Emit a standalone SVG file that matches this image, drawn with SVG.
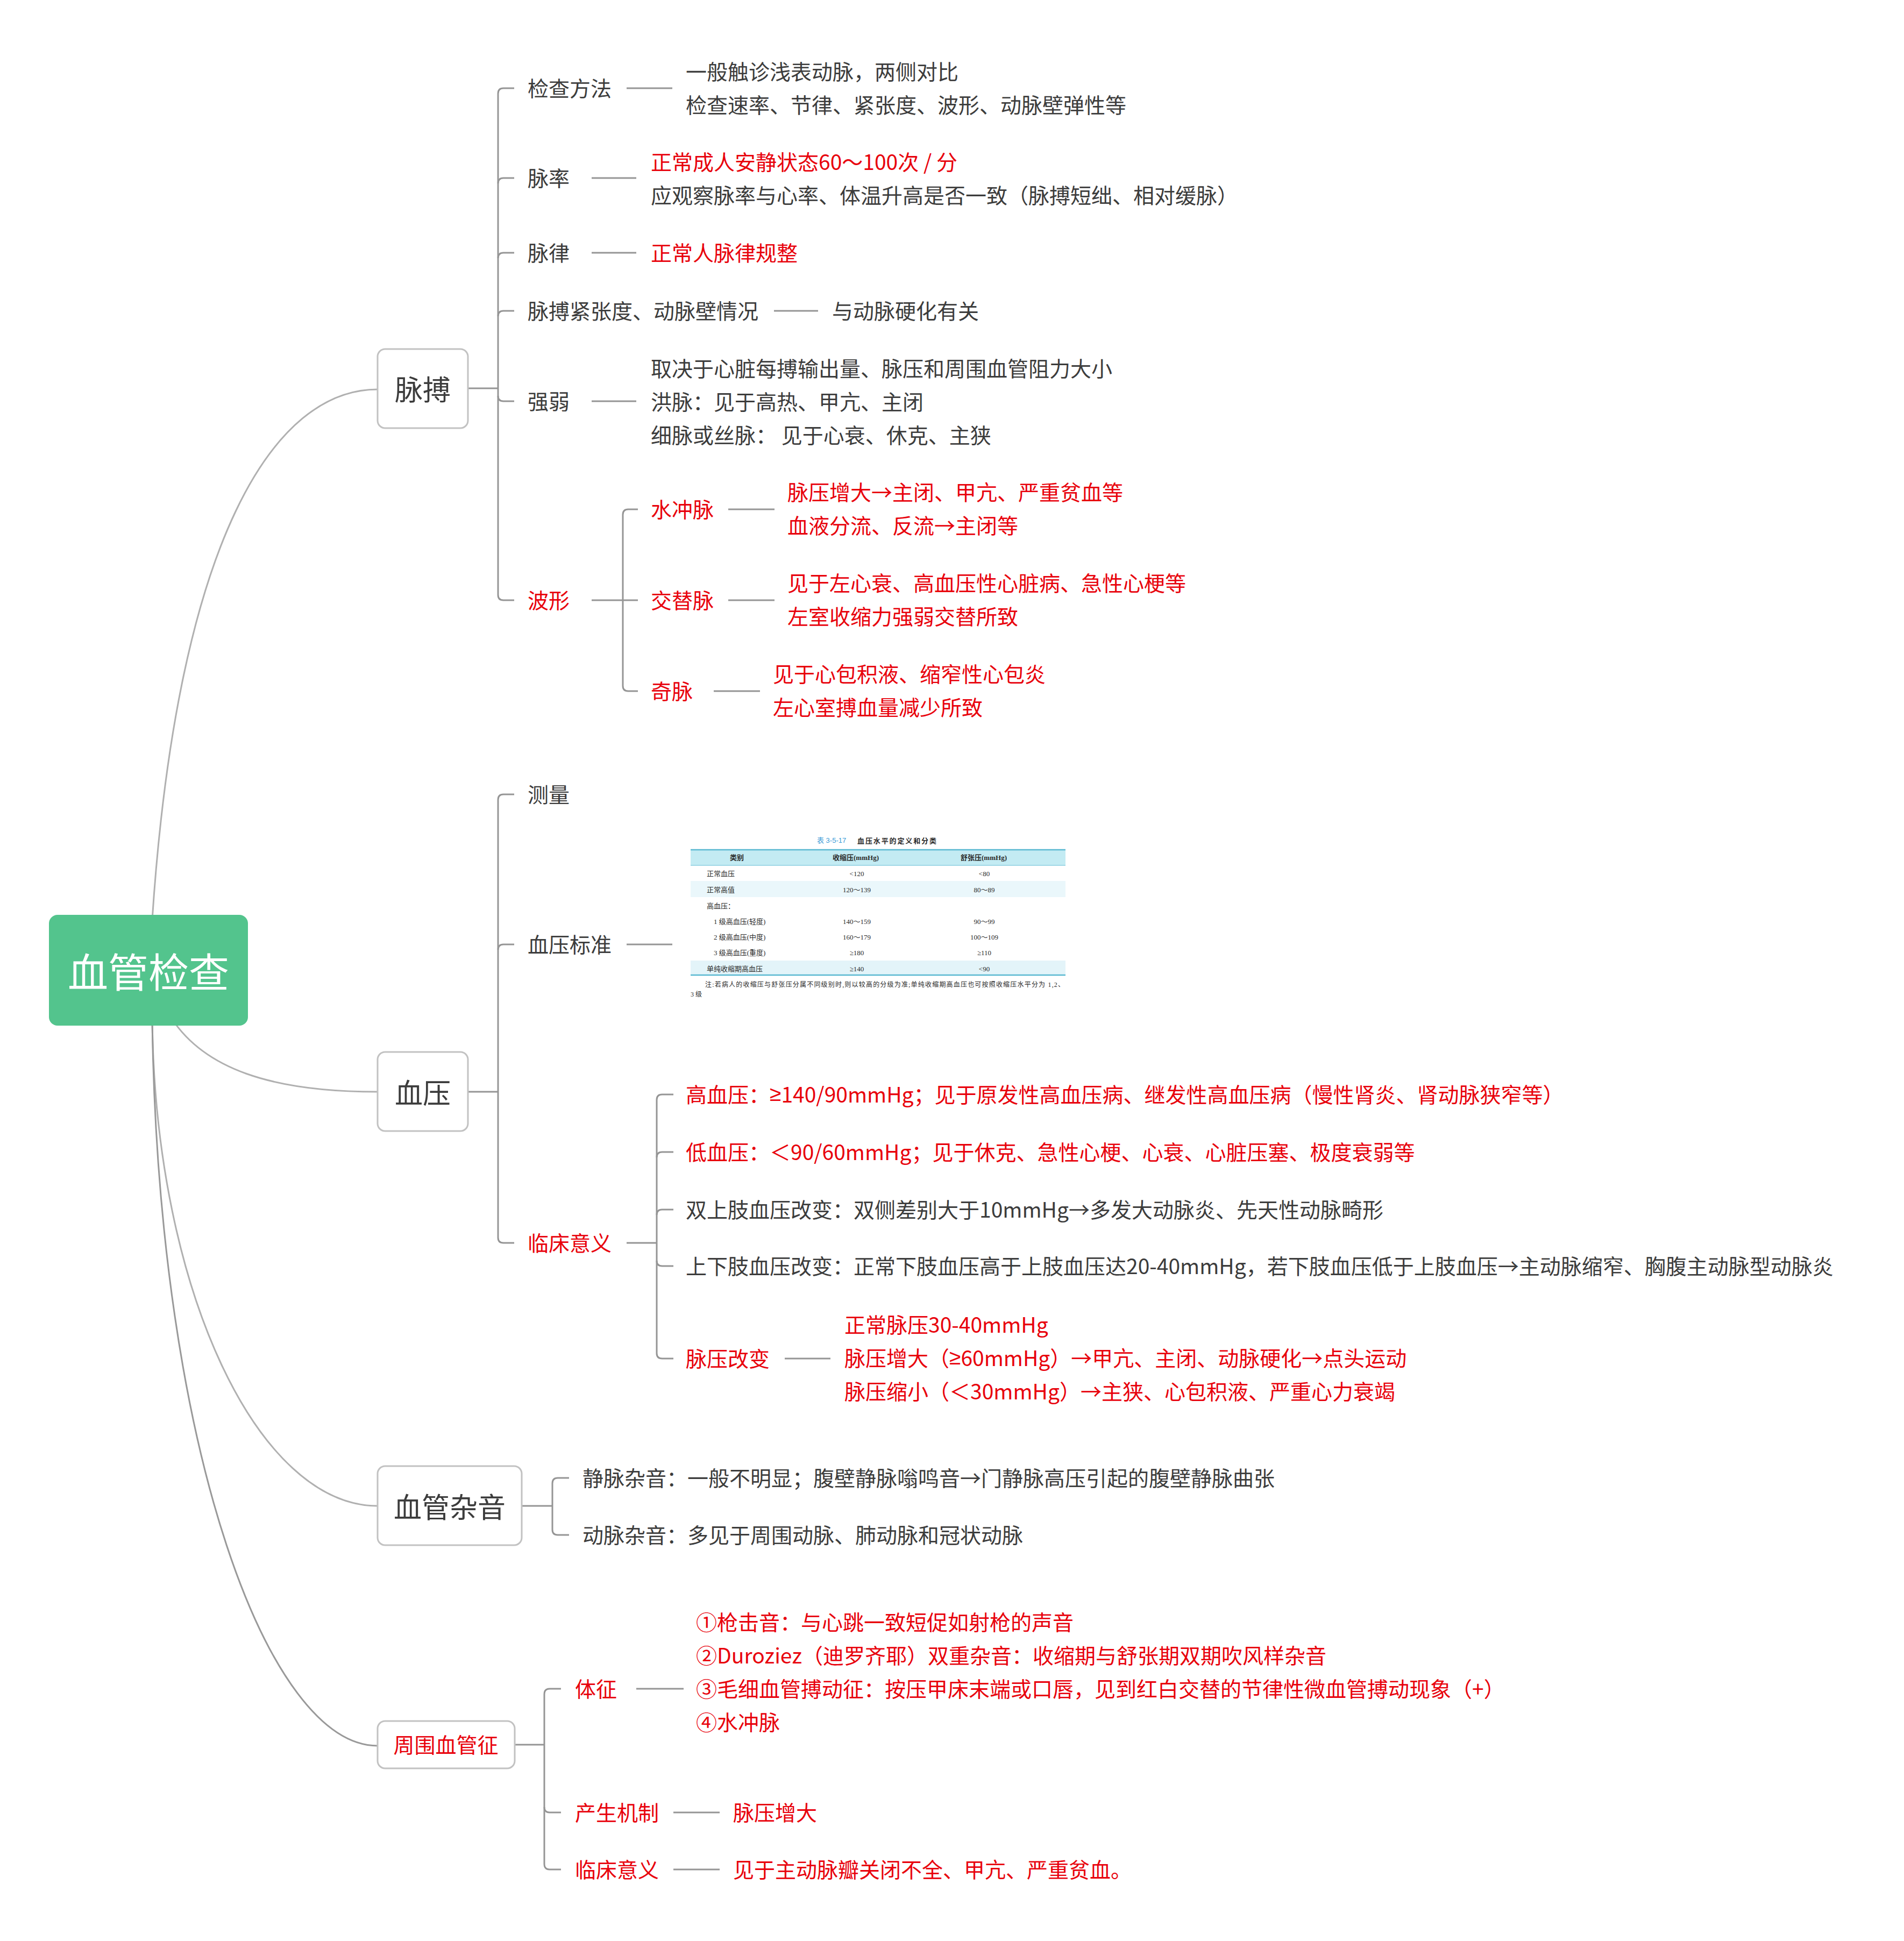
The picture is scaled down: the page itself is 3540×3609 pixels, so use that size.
<svg xmlns="http://www.w3.org/2000/svg" width="3540" height="3609" viewBox="0 0 3540 3609">
<style>
text{font-family:"Noto Sans CJK SC","Noto Sans",sans-serif;dominant-baseline:central}
.t{font-size:39px;fill:#3c3c3c;transform:translateY(-2px)}
.r{font-size:39px;fill:#e8000b;transform:translateY(-2px)}
.m{font-size:52px;fill:#3c3c3c;text-anchor:middle}
.root{font-size:75px;fill:#ffffff;text-anchor:middle}
.box{fill:#ffffff;stroke:#c2c2c2;stroke-width:3}
.br{fill:none;stroke:#959595;stroke-width:3}
.cv{fill:none;stroke:#b0b0b0;stroke-width:3}
.ge{font-family:"Liberation Sans","DejaVu Sans",sans-serif}
.tb{font-family:"Liberation Serif","Noto Sans CJK SC",serif;font-size:13px;fill:#2a2a2a}
.tbh{font-family:"Liberation Serif","Noto Sans CJK SC",serif;font-size:13px;fill:#2a2a2a;font-weight:bold;text-anchor:middle}
.tc{text-anchor:middle}
</style>
<rect width="3540" height="3609" fill="#ffffff"/>

<g id="connectors">
  <path class="cv" d="M283,1710 C330,1000 510,724 702,724"/>
  <path class="cv" d="M320,1895 C380,1985 500,2030 702,2030"/>
  <path class="cv" d="M283,1900 C290,2400 480,2800 702,2800"/>
  <path class="cv" style="stroke:#999" d="M283,1900 C295,2700 500,3246 702,3246"/>

  <path class="br" d="M870,722 H926"/>
  <path class="br" d="M926,174 V1106"/>
  <path class="br" d="M926,174 Q926,164 936,164 H956"/>
  <path class="br" d="M926,341 Q926,331 936,331 H956"/>
  <path class="br" d="M926,480 Q926,470 936,470 H956"/>
  <path class="br" d="M926,588 Q926,578 936,578 H956"/>
  <path class="br" d="M926,736 Q926,746 936,746 H956"/>
  <path class="br" d="M926,1106 Q926,1116 936,1116 H956"/>
  <path class="br" d="M1165,164 H1250"/>
  <path class="br" d="M1100,331 H1183"/>
  <path class="br" d="M1100,470 H1183"/>
  <path class="br" d="M1439,578 H1521"/>
  <path class="br" d="M1100,746 H1183"/>
  <path class="br" d="M1100,1116 H1186"/>
  <path class="br" d="M1158,957 V1275"/>
  <path class="br" d="M1158,957 Q1158,947 1168,947 H1186"/>
  <path class="br" d="M1158,1275 Q1158,1285 1168,1285 H1186"/>
  <path class="br" d="M1354,947 H1440"/>
  <path class="br" d="M1354,1116 H1440"/>
  <path class="br" d="M1327,1285 H1413"/>

  <path class="br" d="M870,2030 H926"/>
  <path class="br" d="M926,1487 V2301"/>
  <path class="br" d="M926,1487 Q926,1477 936,1477 H956"/>
  <path class="br" d="M926,1766 Q926,1756 936,1756 H956"/>
  <path class="br" d="M926,2301 Q926,2311 936,2311 H956"/>
  <path class="br" d="M1165,1756 H1250"/>
  <path class="br" d="M1165,2311 H1221"/>
  <path class="br" d="M1221,2045 V2516"/>
  <path class="br" d="M1221,2045 Q1221,2035 1231,2035 H1252"/>
  <path class="br" d="M1221,2152 Q1221,2142 1231,2142 H1252"/>
  <path class="br" d="M1221,2259 Q1221,2249 1231,2249 H1252"/>
  <path class="br" d="M1221,2344 Q1221,2354 1231,2354 H1252"/>
  <path class="br" d="M1221,2516 Q1221,2526 1231,2526 H1252"/>
  <path class="br" d="M1459,2526 H1544"/>

  <path class="br" d="M970,2800 H1027"/>
  <path class="br" d="M1027,2758 V2844"/>
  <path class="br" d="M1027,2758 Q1027,2748 1037,2748 H1058"/>
  <path class="br" d="M1027,2844 Q1027,2854 1037,2854 H1058"/>

  <path class="br" d="M957,3244 H1012"/>
  <path class="br" d="M1012,3150 V3466"/>
  <path class="br" d="M1012,3150 Q1012,3140 1022,3140 H1043"/>
  <path class="br" d="M1012,3360 Q1012,3370 1022,3370 H1043"/>
  <path class="br" d="M1012,3466 Q1012,3476 1022,3476 H1043"/>
  <path class="br" d="M1183,3140 H1271"/>
  <path class="br" d="M1252,3370 H1338"/>
  <path class="br" d="M1252,3476 H1338"/>
</g>

<g id="root">
  <rect x="91" y="1701" width="370" height="206" rx="16" fill="#53c48d"/>
  <text class="root" x="276" y="1803">血管检查</text>
</g>

<g id="n-maibo">
  <rect class="box" x="702" y="649" width="168" height="147" rx="14"/>
  <text class="m" x="786" y="721">脉搏</text>
</g>
<g id="n-jcff"><text class="t" x="981" y="164">检查方法</text></g>
<g id="n-jcff-c">
  <text class="t" x="1275" y="133">一般触诊浅表动脉，两侧对比</text>
  <text class="t" x="1275" y="195">检查速率、节律、紧张度、波形、动脉壁弹性等</text>
</g>
<g id="n-ml"><text class="t" x="981" y="331">脉率</text></g>
<g id="n-ml-c">
  <text class="r" x="1210" y="301">正常成人安静状态60～100次 / 分</text>
  <text class="t" x="1210" y="363">应观察脉率与心率、体温升高是否一致（脉搏短绌、相对缓脉）</text>
</g>
<g id="n-mlv"><text class="t" x="981" y="470">脉律</text></g>
<g id="n-mlv-c"><text class="r" x="1210" y="470">正常人脉律规整</text></g>
<g id="n-jzd"><text class="t" x="981" y="578">脉搏紧张度、动脉壁情况</text></g>
<g id="n-jzd-c"><text class="t" x="1547" y="578">与动脉硬化有关</text></g>
<g id="n-qr"><text class="t" x="981" y="746">强弱</text></g>
<g id="n-qr-c">
  <text class="t" x="1210" y="685">取决于心脏每搏输出量、脉压和周围血管阻力大小</text>
  <text class="t" x="1210" y="747">洪脉：见于高热、甲亢、主闭</text>
  <text class="t" x="1210" y="809">细脉或丝脉： 见于心衰、休克、主狭</text>
</g>
<g id="n-bx"><text class="r" x="981" y="1116">波形</text></g>
<g id="n-scm"><text class="r" x="1210" y="947">水冲脉</text></g>
<g id="n-scm-c">
  <text class="r" x="1464" y="915">脉压增大→主闭、甲亢、严重贫血等</text>
  <text class="r" x="1464" y="977">血液分流、反流→主闭等</text>
</g>
<g id="n-jtm"><text class="r" x="1210" y="1116">交替脉</text></g>
<g id="n-jtm-c">
  <text class="r" x="1464" y="1084">见于左心衰、高血压性心脏病、急性心梗等</text>
  <text class="r" x="1464" y="1146">左室收缩力强弱交替所致</text>
</g>
<g id="n-qm"><text class="r" x="1210" y="1285">奇脉</text></g>
<g id="n-qm-c">
  <text class="r" x="1437" y="1253">见于心包积液、缩窄性心包炎</text>
  <text class="r" x="1437" y="1315">左心室搏血量减少所致</text>
</g>

<g id="n-xueya">
  <rect class="box" x="702" y="1956" width="168" height="147" rx="14"/>
  <text class="m" x="786" y="2029">血压</text>
</g>
<g id="n-cl"><text class="t" x="981" y="1477">测量</text></g>
<g id="n-xybz"><text class="t" x="981" y="1756">血压标准</text></g>
<g id="n-table">
  <text x="1519" y="1562" style="font-family:'Liberation Sans','Noto Sans CJK SC',sans-serif;font-size:13px;fill:#3a9ad6">表 3-5-17</text>
  <text x="1594" y="1562" style="font-size:13px;fill:#2a2a2a;font-weight:bold" textLength="147">血压水平的定义和分类</text>
  <rect x="1284" y="1580" width="697" height="29" fill="#c3ebf3"/>
  <line x1="1284" y1="1580" x2="1981" y2="1580" stroke="#5ab9d1" stroke-width="2.5"/>
  <line x1="1284" y1="1609" x2="1981" y2="1609" stroke="#8ccfe0" stroke-width="1.5"/>
  <rect x="1284" y="1638" width="697" height="30" fill="#eaf7fb"/>
  <rect x="1284" y="1786" width="697" height="26" fill="#e3f4f9"/>
  <line x1="1284" y1="1813" x2="1981" y2="1813" stroke="#5ab9d1" stroke-width="2.5"/>
  <text class="tbh" x="1370" y="1594">类别</text>
  <text class="tbh" x="1591" y="1594">收缩压(mmHg)</text>
  <text class="tbh" x="1829" y="1594">舒张压(mmHg)</text>
  <text class="tb" x="1314" y="1624">正常血压</text>
  <text class="tb tc" x="1593" y="1624">&lt;120</text>
  <text class="tb tc" x="1830" y="1624">&lt;80</text>
  <text class="tb" x="1314" y="1654">正常高值</text>
  <text class="tb tc" x="1593" y="1654">120～139</text>
  <text class="tb tc" x="1830" y="1654">80～89</text>
  <text class="tb" x="1314" y="1684">高血压：</text>
  <text class="tb" x="1327" y="1713">1 级高血压(轻度)</text>
  <text class="tb tc" x="1593" y="1713">140～159</text>
  <text class="tb tc" x="1830" y="1713">90～99</text>
  <text class="tb" x="1327" y="1742">2 级高血压(中度)</text>
  <text class="tb tc" x="1593" y="1742">160～179</text>
  <text class="tb tc" x="1830" y="1742">100～109</text>
  <text class="tb" x="1327" y="1771">3 级高血压(重度)</text>
  <text class="tb tc" x="1593" y="1771">≥180</text>
  <text class="tb tc" x="1830" y="1771">≥110</text>
  <text class="tb" x="1314" y="1801">单纯收缩期高血压</text>
  <text class="tb tc" x="1593" y="1801">≥140</text>
  <text class="tb tc" x="1830" y="1801">&lt;90</text>
  <text class="tb" x="1311" y="1831" style="font-size:12px" textLength="668">注:若病人的收缩压与舒张压分属不同级别时,则以较高的分级为准;单纯收缩期高血压也可按照收缩压水平分为 1,2、</text>
  <text class="tb" x="1284" y="1849" style="font-size:12px">3 级</text>
</g>
<g id="n-lcyy"><text class="r" x="981" y="2311">临床意义</text></g>
<g id="n-gxy"><text class="r" x="1275" y="2035">高血压：<tspan class="ge">≥</tspan>140/90mmHg；见于原发性高血压病、继发性高血压病（慢性肾炎、肾动脉狭窄等）</text></g>
<g id="n-dxy"><text class="r" x="1275" y="2142">低血压：＜90/60mmHg；见于休克、急性心梗、心衰、心脏压塞、极度衰弱等</text></g>
<g id="n-ssz"><text class="t" x="1275" y="2249">双上肢血压改变：双侧差别大于10mmHg→多发大动脉炎、先天性动脉畸形</text></g>
<g id="n-sxz"><text class="t" x="1275" y="2354">上下肢血压改变：正常下肢血压高于上肢血压达20-40mmHg，若下肢血压低于上肢血压→主动脉缩窄、胸腹主动脉型动脉炎</text></g>
<g id="n-mygb"><text class="r" x="1275" y="2526">脉压改变</text></g>
<g id="n-mygb-c">
  <text class="r" x="1570" y="2463">正常脉压30-40mmHg</text>
  <text class="r" x="1570" y="2525">脉压增大（<tspan class="ge">≥</tspan>60mmHg）→甲亢、主闭、动脉硬化→点头运动</text>
  <text class="r" x="1570" y="2587">脉压缩小（＜30mmHg）→主狭、心包积液、严重心力衰竭</text>
</g>

<g id="n-xgzy">
  <rect class="box" x="702" y="2726" width="268" height="147" rx="14"/>
  <text class="m" x="836" y="2799">血管杂音</text>
</g>
<g id="n-jmzy"><text class="t" x="1083" y="2748">静脉杂音：一般不明显；腹壁静脉嗡鸣音→门静脉高压引起的腹壁静脉曲张</text></g>
<g id="n-dmzy"><text class="t" x="1083" y="2854">动脉杂音：多见于周围动脉、肺动脉和冠状动脉</text></g>

<g id="n-zwxgz">
  <rect class="box" x="702" y="3200" width="255" height="88" rx="14"/>
  <text class="r" x="829" y="3244" style="text-anchor:middle">周围血管征</text>
</g>
<g id="n-tz"><text class="r" x="1069" y="3140">体征</text></g>
<g id="n-tz-c">
  <text class="r" x="1294" y="3016">①枪击音：与心跳一致短促如射枪的声音</text>
  <text class="r" x="1294" y="3078">②Duroziez（迪罗齐耶）双重杂音：收缩期与舒张期双期吹风样杂音</text>
  <text class="r" x="1294" y="3140">③毛细血管搏动征：按压甲床末端或口唇，见到红白交替的节律性微血管搏动现象（+）</text>
  <text class="r" x="1294" y="3202">④水冲脉</text>
</g>
<g id="n-csjz"><text class="r" x="1069" y="3370">产生机制</text></g>
<g id="n-csjz-c"><text class="r" x="1363" y="3370">脉压增大</text></g>
<g id="n-lcyy2"><text class="r" x="1069" y="3476">临床意义</text></g>
<g id="n-lcyy2-c"><text class="r" x="1363" y="3476">见于主动脉瓣关闭不全、甲亢、严重贫血。</text></g>
</svg>
